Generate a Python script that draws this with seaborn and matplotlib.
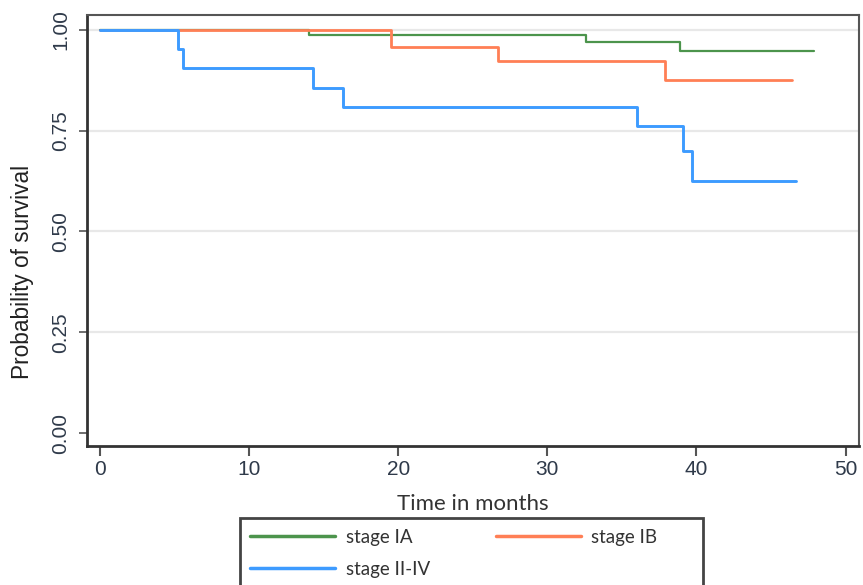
import matplotlib
matplotlib.use("Agg")
import matplotlib.pyplot as plt
from matplotlib.patches import Rectangle
import seaborn as sns
import pandas as pd

# Kaplan-Meier step data
stage_ia_time = [0, 14.0, 32.6, 38.9, 47.9]
stage_ia_surv = [1.0, 0.988, 0.970, 0.948, 0.948]
stage_ib_time = [0, 19.5, 26.7, 37.9, 46.4]
stage_ib_surv = [1.0, 0.958, 0.923, 0.876, 0.876]
stage_iiv_time = [0, 5.2, 5.6, 14.3, 16.3, 36.0, 39.1, 39.7, 46.7]
stage_iiv_surv = [1.0, 0.953, 0.905, 0.857, 0.810, 0.762, 0.700, 0.625, 0.625]

labels = ["stage IA", "stage IB", "stage II-IV"]
colors = {"stage IA": "#4c944c", "stage IB": "#ff7f55", "stage II-IV": "#3d9bff"}
yticks = [0.00, 0.25, 0.50, 0.75, 1.00]
xticks = [0, 10, 20, 30, 40, 50]

frames = []
for lab, t, s in zip(labels, [stage_ia_time, stage_ib_time, stage_iiv_time],
                     [stage_ia_surv, stage_ib_surv, stage_iiv_surv]):
    frames.append(pd.DataFrame({"time": t, "surv": s, "stage": lab}))
df = pd.concat(frames, ignore_index=True)

sns.set_style("white")
plt.rcParams["font.family"] = ["Liberation Sans", "DejaVu Sans"]

fig = plt.figure(figsize=(8.63, 5.85), dpi=100)
ax = fig.add_axes([0.1008, 0.2376, 0.8946, 0.7368])

for yv in [0.25, 0.50, 0.75, 1.00]:
    ax.axhline(yv, color="#e8e8e8", lw=1.6, zorder=0)

widths = {"stage IA": 1.6, "stage IB": 2.0, "stage II-IV": 2.1}
for lab in labels:
    sub = df[df["stage"] == lab]
    sns.lineplot(data=sub, x="time", y="surv", drawstyle="steps-post",
                 estimator=None, color=colors[lab], lw=widths[lab], ax=ax,
                 legend=False)

ax.set_xlim(-0.87, 50.9)
ax.set_ylim(-0.032, 1.037)
ax.set_xticks(xticks)
ax.set_yticks(yticks)
ax.set_yticklabels([f"{v:.2f}" for v in yticks], rotation=90, va="center")
ax.tick_params(axis="x", length=7, width=1.5, color="#555555", labelsize=15,
               labelcolor="#2f3a4a", pad=3, bottom=True)
ax.tick_params(axis="y", length=6, width=1.2, color="#555555", labelsize=15,
               labelcolor="#2f3a4a", pad=6, left=True)

for side in ["left", "bottom"]:
    ax.spines[side].set_color("#333333")
    ax.spines[side].set_linewidth(2.0)
for side in ["top", "right"]:
    ax.spines[side].set_color("#555555")
    ax.spines[side].set_linewidth(1.5)

ax.set_xlabel("Time in months", fontsize=16, color="#333333",
              family=["Lato", "DejaVu Sans"], labelpad=11)
ax.set_ylabel("Probability of survival", fontsize=16.3, color="#222222")
ax.yaxis.set_label_coords(-0.068, 0.404)

# legend frame (box extends beyond the bottom edge of the figure)
fig.patches.append(Rectangle((240 / 863, -0.05), (703 - 240) / 863,
                             (1 - 518 / 585) + 0.05, transform=fig.transFigure,
                             facecolor="white", edgecolor="#444444", lw=2.0,
                             zorder=1))

order = ["stage IA", "stage II-IV", "stage IB"]
handles = [plt.Line2D([], [], color=colors[l], lw=2.5) for l in order]
leg = fig.legend(handles, order, loc="upper left", ncol=2,
                 bbox_to_anchor=(250 / 863, 1 - 529 / 585),
                 frameon=False, handlelength=4.55,
                 columnspacing=3.5, handletextpad=0.55, labelspacing=0.78,
                 borderpad=0, borderaxespad=0,
                 prop={"family": ["Lato", "DejaVu Sans"], "size": 13.5})
leg.set_zorder(3)
for t in leg.get_texts():
    t.set_color("#333333")

fig.savefig("out.png", dpi=100)
